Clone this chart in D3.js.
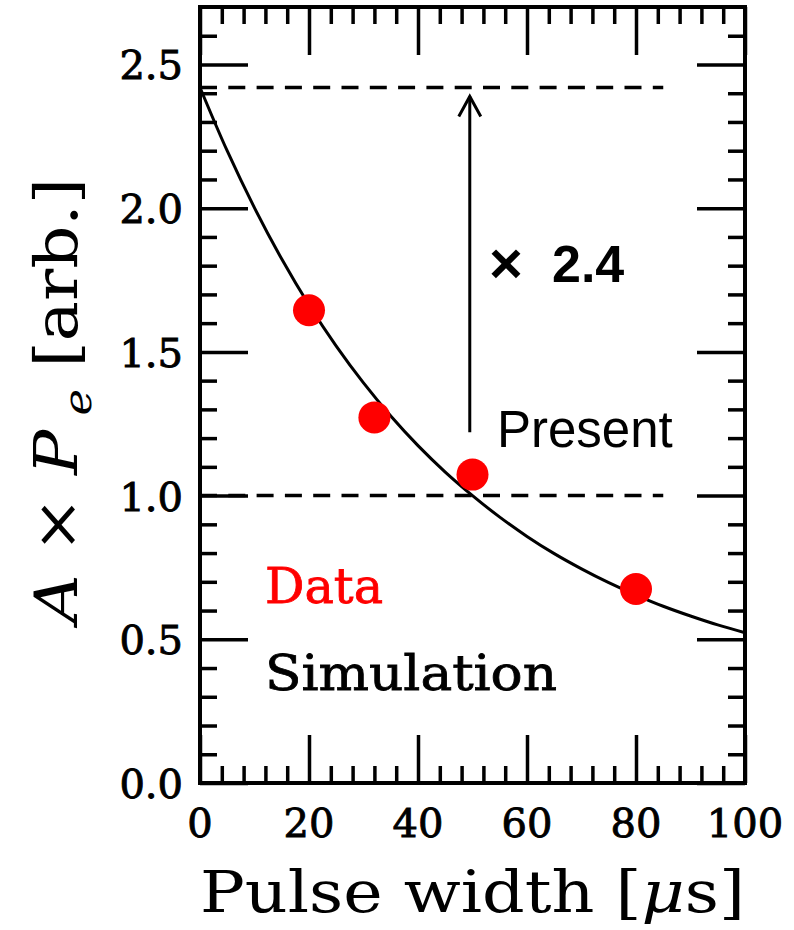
<!DOCTYPE html>
<html><head><meta charset="utf-8">
<script src="https://cdn.jsdelivr.net/npm/d3@7"></script>
<style>
html,body{margin:0;padding:0;background:#fff;}
svg{display:block;}
</style></head>
<body>
<svg id="chart" width="794" height="930"></svg>
<script>
// ---- data ----
const dataX = [20, 32, 50, 80];
const dataY = [1.645, 1.272, 1.073, 0.675];
const simX = [0,5,10,15,20,25,30,35,40,45,50,55,60,65,70,75,80,85,90,95,100];
const simY = [2.420,2.199,2.001,1.823,1.663,1.520,1.392,1.277,1.174,1.082,1.000,0.925,0.858,0.798,0.745,0.697,0.654,0.615,0.581,0.550,0.523];
const refLevels = [2.42, 1.0];
const xMajorTicks = [0,20,40,60,80,100];
const yMajorTicks = [0.0,0.5,1.0,1.5,2.0,2.5];
const yTickLabels = ["0.0","0.5","1.0","1.5","2.0","2.5"];
const xTickLabels = ["0","20","40","60","80","100"];
const arrowX = 49.5, arrowFrom = 1.22, arrowTo = 2.42;

// ---- layout ----
const L = 200, R = 745, T = 7, B = 783;
const svg = d3.select("#chart");
const x = d3.scaleLinear().domain([0,100]).range([L,R]);
const y = d3.scaleLinear().domain([0,2.7]).range([B,T]);

const xMinor = d3.range(0,100.01,4).filter(v => v%20!==0);
const yMinor = d3.range(0,27).map(i=>i/10).filter(v => Math.round(v*10)%5!==0);

const MAJ = 48, MIN = 17, TW = 3.5;
function styleAxis(g){
  g.select(".domain").remove();
  g.selectAll(".tick line").attr("stroke","#000").attr("stroke-width",TW);
}
// bottom
svg.append("g").attr("transform",`translate(0,${B})`).call(d3.axisBottom(x).tickValues(xMinor).tickSize(-MIN).tickFormat("")).call(styleAxis);
svg.append("g").attr("transform",`translate(0,${B})`).call(d3.axisBottom(x).tickValues(xMajorTicks).tickSize(-MAJ).tickFormat("")).call(styleAxis);
// top
svg.append("g").attr("transform",`translate(0,${T})`).call(d3.axisTop(x).tickValues(xMinor).tickSize(-MIN).tickFormat("")).call(styleAxis);
svg.append("g").attr("transform",`translate(0,${T})`).call(d3.axisTop(x).tickValues(xMajorTicks).tickSize(-MAJ).tickFormat("")).call(styleAxis);
// left
svg.append("g").attr("transform",`translate(${L},0)`).call(d3.axisLeft(y).tickValues(yMinor).tickSize(-MIN).tickFormat("")).call(styleAxis);
svg.append("g").attr("transform",`translate(${L},0)`).call(d3.axisLeft(y).tickValues(yMajorTicks).tickSize(-MAJ).tickFormat("")).call(styleAxis);
// right
svg.append("g").attr("transform",`translate(${R},0)`).call(d3.axisRight(y).tickValues(yMinor).tickSize(-MIN).tickFormat("")).call(styleAxis);
svg.append("g").attr("transform",`translate(${R},0)`).call(d3.axisRight(y).tickValues(yMajorTicks).tickSize(-MAJ).tickFormat("")).call(styleAxis);

// tick labels
const tickFont = "'DejaVu Serif', serif";
svg.append("g").selectAll("text").data(yMajorTicks).join("text")
  .attr("x", L-17).attr("y", d=>y(d)+15)
  .attr("text-anchor","end").attr("font-family",tickFont).attr("font-size",40)
  .attr("stroke","#000").attr("stroke-width",0.9)
  .text((d,i)=>yTickLabels[i]);
svg.append("g").selectAll("text").data(xMajorTicks).join("text")
  .attr("x", d=>x(d)).attr("y", B+54)
  .attr("text-anchor","middle").attr("font-family",tickFont).attr("font-size",40)
  .attr("stroke","#000").attr("stroke-width",0.9)
  .text((d,i)=>xTickLabels[i]);

// dashed reference lines
svg.append("g").selectAll("line").data(refLevels).join("line")
  .attr("x1", x(0)).attr("x2", x(85))
  .attr("y1", d=>y(d)).attr("y2", d=>y(d))
  .attr("stroke","#000").attr("stroke-width",3.5).attr("stroke-dasharray","17,11.3");

// simulation curve
const line = d3.line().x((d,i)=>x(simX[i])).y((d,i)=>y(simY[i])).curve(d3.curveCatmullRom);
svg.append("path").datum(simY).attr("d", line)
  .attr("fill","none").attr("stroke","#000").attr("stroke-width",3);

// frame
svg.append("rect").attr("x",L).attr("y",T).attr("width",R-L).attr("height",B-T)
  .attr("fill","none").attr("stroke","#000").attr("stroke-width",4);

// data points
svg.append("g").selectAll("circle").data(dataY).join("circle")
  .attr("cx",(d,i)=>x(dataX[i])).attr("cy",d=>y(d)).attr("r",16).attr("fill","#ff0000");

// arrow
const ax = x(arrowX), ay1 = y(arrowFrom), ay2 = y(arrowTo)+9;
svg.append("line").attr("x1",ax).attr("x2",ax).attr("y1",ay1).attr("y2",ay2)
  .attr("stroke","#000").attr("stroke-width",3);
svg.append("path").attr("d",`M${ax-11},${ay2+20}L${ax},${ay2}L${ax+11},${ay2+20}`)
  .attr("fill","none").attr("stroke","#000").attr("stroke-width",3);

// annotations
const sans = "'Liberation Sans', Arial, sans-serif";
svg.append("text").attr("x",489).attr("y",283).attr("font-family",sans).attr("font-weight","bold")
  .attr("font-size",58).text("×");
svg.append("text").attr("x",552).attr("y",282).attr("font-family",sans).attr("font-weight","bold")
  .attr("font-size",52).text("2.4");
svg.append("text").attr("x",497).attr("y",447).attr("font-family",sans)
  .attr("font-size",51).text("Present");

const slab = "'DejaVu Serif', serif";
svg.append("text").attr("x",265).attr("y",603).attr("font-family",slab).attr("font-size",48)
  .attr("fill","#ff0000").attr("stroke","#ff0000").attr("stroke-width",0.8)
  .attr("textLength",118).attr("lengthAdjust","spacingAndGlyphs").text("Data");
svg.append("text").attr("x",265).attr("y",690).attr("font-family",slab).attr("font-size",48)
  .attr("fill","#000").attr("stroke","#000").attr("stroke-width",0.8)
  .attr("textLength",292).attr("lengthAdjust","spacingAndGlyphs").text("Simulation");

// axis titles
const serif = "'DejaVu Serif', serif";
const xt = svg.append("text").attr("x",L).attr("y",912).attr("font-family",serif).attr("font-size",58)
  .attr("textLength",545).attr("lengthAdjust","spacingAndGlyphs");
xt.append("tspan").text("Pulse width [");
xt.append("tspan").attr("font-style","italic").text("μ");
xt.append("tspan").text("s]");

const yt = svg.append("text").attr("transform","translate(77,623) rotate(-90)")
  .attr("font-family",serif).attr("font-size",60)
  .attr("textLength",445).attr("lengthAdjust","spacingAndGlyphs");
yt.append("tspan").attr("font-style","italic").text("A");
yt.append("tspan").text(" × ");
yt.append("tspan").attr("font-style","italic").text("P");
yt.append("tspan").attr("font-style","italic").attr("font-size",40).attr("dy",14).text(" e");
yt.append("tspan").attr("dy",-14).text(" [arb.]");
</script>
</body></html>
